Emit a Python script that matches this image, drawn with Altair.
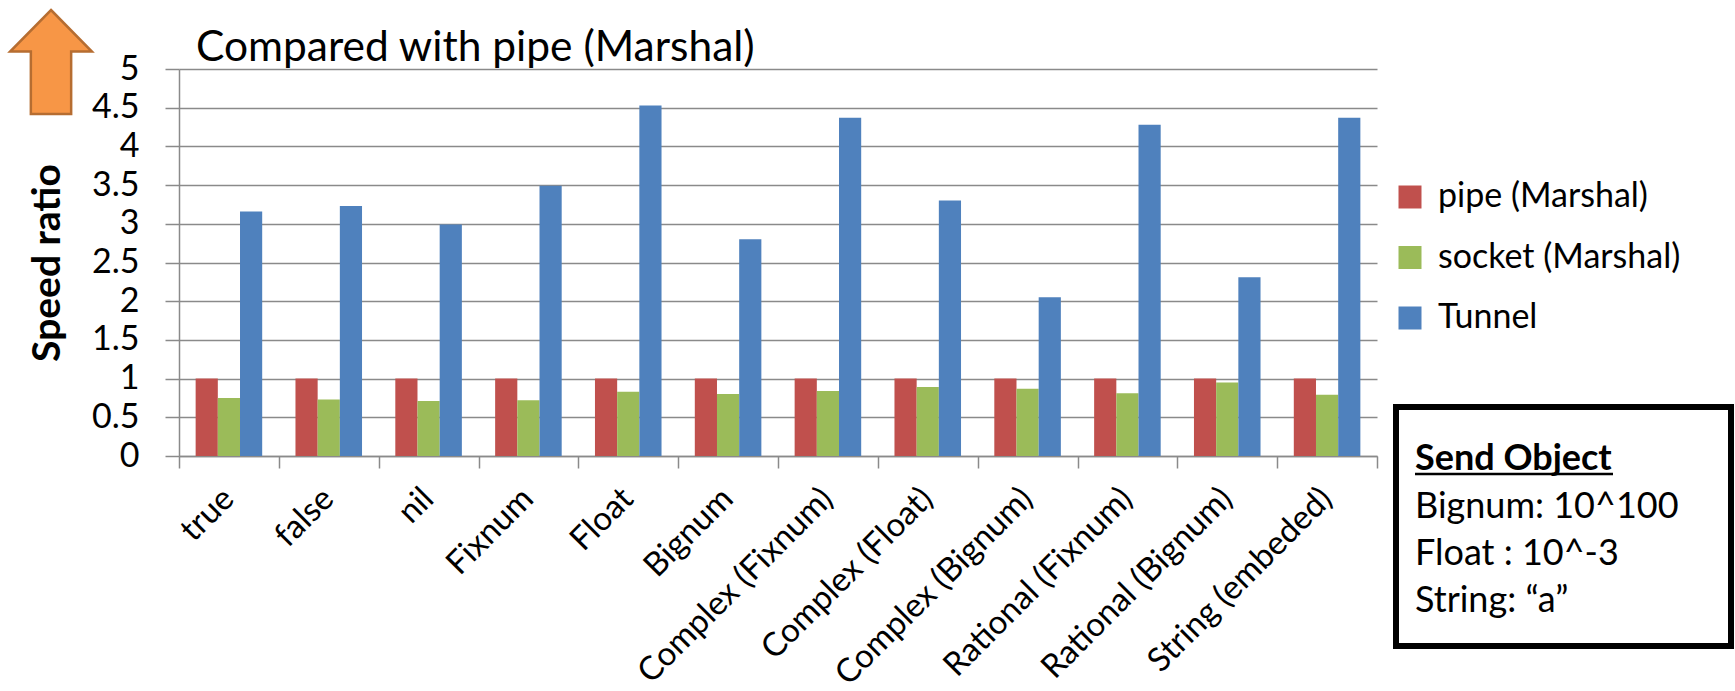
import altair as alt
import pandas as pd

# ---- data -------------------------------------------------------------
categories = ["true", "false", "nil", "Fixnum", "Float", "Bignum",
              "Complex (Fixnum)", "Complex (Float)", "Complex (Bignum)",
              "Rational (Fixnum)", "Rational (Bignum)", "String (embeded)"]
series = ["pipe (Marshal)", "socket (Marshal)", "Tunnel"]
pipe = [1.00, 1.00, 1.00, 1.00, 1.00, 1.00, 1.00, 1.00, 1.00, 1.00, 1.00, 1.00]
socket = [0.75, 0.73, 0.71, 0.72, 0.83, 0.80, 0.84, 0.89, 0.87, 0.81, 0.95, 0.79]
tunnel = [3.16, 3.23, 2.99, 3.49, 4.53, 2.80, 4.37, 3.30, 2.05, 4.28, 2.31, 4.37]
colors = ["#C0504D", "#9BBB59", "#4F81BD"]
y_ticks = [0, 0.5, 1, 1.5, 2, 2.5, 3, 3.5, 4, 4.5, 5]

chart_title = "Compared with pipe (Marshal)"
y_title = "Speed ratio"
note_head = "Send Object"
note_lines = ["Bignum: 10^100", "Float : 10^-3", "String: \u201ca\u201d"]

# ---- layout constants -------------------------------------------------
FONT = "Lato"
GRID = "#8a8a8a"
W, H = 1198, 387
LEFT, TOP = 179, 69
ARROW = "M0,-1 L0.786,-0.2 L0.3875,-0.2 L0.3875,1 L-0.3875,1 L-0.3875,-0.2 L-0.786,-0.2 Z"

rows = []
for vals, name in zip([pipe, socket, tunnel], series):
    for cat, v in zip(categories, vals):
        rows.append({"object": cat, "series": name, "ratio": v})
df = pd.DataFrame(rows)

bars = alt.Chart(df).mark_bar().encode(
    x=alt.X(
        "object:N", sort=categories, title=None,
        scale=alt.Scale(paddingInner=0, paddingOuter=0),
        axis=alt.Axis(
            labelAngle=-45, labelAlign="right", labelBaseline="top",
            labelPadding=14, labelOffset=-12,
            labelFontSize=33, labelFont=FONT, labelColor="black",
            labelLimit=0, tickBand="extent", tickSize=12, tickColor=GRID,
            tickWidth=1.5, domainColor=GRID, domainWidth=1.5, grid=False,
        ),
    ),
    xOffset=alt.XOffset(
        "series:N", sort=series,
        scale=alt.Scale(paddingInner=0, paddingOuter=0.75),
    ),
    y=alt.Y(
        "ratio:Q", scale=alt.Scale(domain=[0, 5], nice=False),
        axis=alt.Axis(
            values=y_ticks, format=".2~f", title=y_title,
            titleFont=FONT, titleFontSize=39, titleFontWeight="bold",
            titleColor="black", titleX=-132, titleY=H / 2,
            titleAlign="center", titleBaseline="middle", titleAngle=270,
            labelFont=FONT, labelFontSize=34, labelColor="black",
            labelPadding=26, tickSize=14, tickColor=GRID, tickWidth=1.5,
            domainColor=GRID, domainWidth=1.5,
            grid=True, gridColor=GRID, gridWidth=1.5,
        ),
    ),
    color=alt.Color(
        "series:N", sort=series,
        scale=alt.Scale(domain=series, range=colors),
        legend=alt.Legend(
            title=None, orient="none", legendX=1214, legendY=111,
            symbolType="square", symbolSize=529, symbolStrokeWidth=0,
            labelFont=FONT, labelFontSize=34, labelColor="black",
            labelLimit=0, labelOffset=11, rowPadding=26.5, padding=0,
        ),
    ),
)

one = pd.DataFrame({"k": [0]})

title = alt.Chart(pd.DataFrame({"t": [chart_title]})).mark_text(
    font=FONT, fontSize=42.5, align="left", baseline="alphabetic", color="black"
).encode(text="t:N", x=alt.value(196 - LEFT), y=alt.value(61 - TOP))

arrow = alt.Chart(one).mark_point(
    shape=ARROW, filled=True, fill="#F79646", stroke="#B66D31",
    strokeWidth=2.5, opacity=1,
).encode(x=alt.value(51 - LEFT), y=alt.value(62 - TOP), size=alt.value(10816))

box = alt.Chart(one).mark_rect(
    fill="white", stroke="black", strokeWidth=6
).encode(
    x=alt.value(1396 - LEFT), x2=alt.value(1731 - LEFT),
    y=alt.value(407 - TOP), y2=alt.value(646 - TOP),
)

head = alt.Chart(pd.DataFrame({"t": [note_head]})).mark_text(
    font=FONT, fontSize=36, fontWeight="bold", align="left",
    baseline="alphabetic", color="black",
).encode(text="t:N", x=alt.value(1415 - LEFT), y=alt.value(470 - TOP))

underline = alt.Chart(one).mark_rule(color="black", strokeWidth=2.5).encode(
    x=alt.value(1415 - LEFT), x2=alt.value(1613 - LEFT), y=alt.value(474 - TOP)
)

body = alt.Chart(pd.DataFrame({"t": ["\n".join(note_lines)]})).mark_text(
    font=FONT, fontSize=36, align="left", baseline="alphabetic",
    color="black", lineBreak="\n", lineHeight=47,
).encode(text="t:N", x=alt.value(1415 - LEFT), y=alt.value(518 - TOP))

chart = alt.layer(bars, title, arrow, box, head, underline, body).properties(
    width=W, height=H,
    autosize=alt.AutoSizeParams(type="none"),
    padding={"left": LEFT, "top": TOP, "right": 1735 - LEFT - W, "bottom": 691 - TOP - H},
    background="white",
).configure_view(stroke=None)

chart.save("out.html", embed_options={"renderer": "svg", "actions": False})
